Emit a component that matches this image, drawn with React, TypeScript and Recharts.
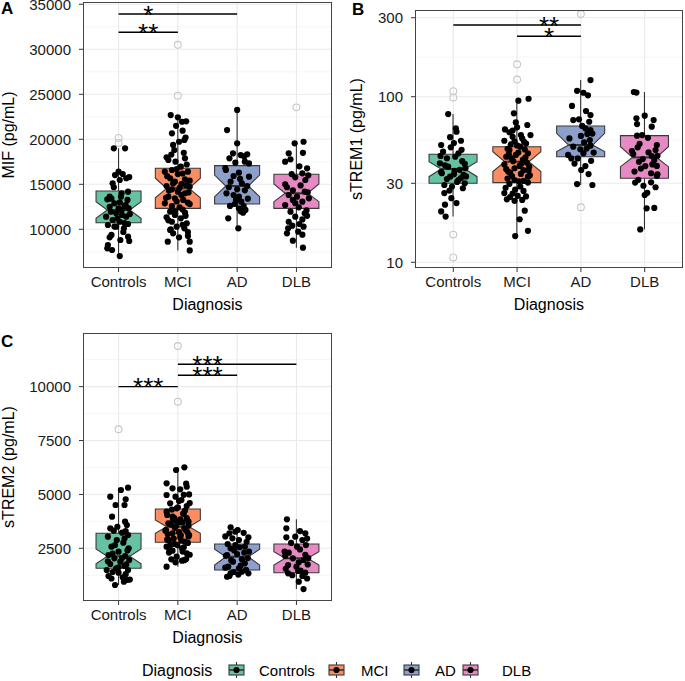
import React from 'react';
import { ComposedChart, Bar, Scatter, XAxis, YAxis, CartesianGrid, ReferenceLine } from 'recharts';

const FONT = '"Liberation Sans", Arial, Helvetica, sans-serif';

const GROUPS = ['Controls', 'MCI', 'AD', 'DLB'];
const FILLS = ['#66C2A5', '#FC8D62', '#8DA0CB', '#E78AC3'];

type Pt = [number, number];
type Sig = [number, number, number, number, string];

// box stats per group: [lowWhisker, q1, notchLow, median, notchHigh, q3, highWhisker]
const mifBoxes = [
  [6950, 10730, 11220, 12140, 13070, 14250, 19000],
  [7650, 12330, 13510, 14550, 15670, 16780, 22690],
  [10110, 12810, 13620, 14810, 16030, 17070, 23260],
  [7960, 12330, 13070, 14000, 15030, 16110, 19730],
];
const mifOutliers: Pt[] = [[1, 20150], [1, 19600], [2, 30500], [2, 24850], [4, 23550]];
const mifSigs: Sig[] = [[1, 3, 33920, 1.5, '*'], [1, 2, 31890, 1.5, '**']];

// jittered points: [jitter offset, value]
const mifControls: Pt[] = [
  [-0.08, 19000], [0.11, 19000], [0, 16400], [-0.06, 16030], [0.07, 16140], [0.13, 15670], [0.02, 15480],
  [-0.1, 15110], [-0.08, 14670], [0.16, 14180], [-0.15, 13620], [-0.19, 13330], [0.04, 13620], [0.15, 13260],
  [-0.07, 12890], [0.1, 12590], [0, 12330], [0.17, 12330], [-0.13, 11960], [-0.04, 11780], [0.06, 11590],
  [-0.21, 11400], [0.13, 11400], [-0.1, 11030], [0.02, 10840], [0.16, 10590], [-0.18, 10480], [-0.04, 10290],
  [0.09, 10110], [-0.12, 9370], [-0.15, 9110], [0.16, 9180], [0.03, 8810], [-0.18, 8250], [-0.19, 7890],
  [-0.11, 7700], [0.02, 7030], [-0.12, 13400], [0.12, 12700], [0.05, 12100], [-0.02, 11200], [0.1, 10700],
  [0.05, 14000], [-0.15, 12500], [0.19, 11700], [-0.07, 10300], [0.08, 9700], [0.18, 8700], [0.02, 13000],
  [0.18, 15800],
];
const mifMCI: Pt[] = [
  [-0.12, 22690], [0, 22440], [0.07, 21950], [-0.1, 20660], [0.08, 20960], [-0.08, 19370], [0.02, 19730],
  [0.11, 19920], [-0.06, 18810], [-0.19, 18000], [-0.16, 17700], [0.12, 17890], [-0.04, 17510], [0.05, 16960],
  [-0.22, 16400], [-0.1, 16590], [0.17, 16400], [0, 16140], [-0.13, 15670], [0.12, 15560], [-0.05, 15290],
  [0.06, 15030], [-0.19, 14810], [0.2, 14730], [-0.1, 14440], [0, 14180], [0.12, 14000], [-0.16, 13620],
  [-0.05, 13440], [0.09, 13260], [-0.22, 12890], [0.17, 12960], [-0.1, 12590], [0.03, 12440], [-0.13, 11960],
  [0.12, 11850], [-0.05, 11590], [-0.19, 11330], [0.05, 11220], [-0.1, 10840], [0.15, 10670], [-0.02, 10290],
  [-0.13, 9920], [0.11, 10110], [-0.08, 9550], [0.17, 9260], [0.02, 9110], [-0.17, 8620], [0.2, 8620],
  [0.2, 7650], [0.15, 17200], [-0.02, 16700], [0.08, 16200], [-0.18, 15900], [0.2, 15400], [-0.08, 15100],
  [0.14, 14900], [0.03, 14600], [-0.15, 14300], [0.18, 14100], [0.06, 13800], [-0.2, 13500], [-0.02, 13100],
  [0.2, 12800], [0.08, 12200], [-0.05, 12000], [0.13, 11500], [-0.16, 11000], [0.08, 10500], [-0.12, 10000],
  [0.17, 9700], [-0.11, 18300], [0.1, 18500], [0.13, 20200], [-0.03, 21500], [0.14, 22000],
];
const mifAD: Pt[] = [
  [0, 23260], [-0.17, 21030], [0, 19550], [-0.07, 18440], [0.06, 18250], [0.17, 18340], [-0.13, 17890],
  [0.13, 17510], [0.2, 17320], [-0.19, 16590], [0.03, 16290], [-0.06, 15920], [0.2, 15850], [-0.11, 15290],
  [0.08, 15110], [0.17, 14810], [-0.14, 14670], [0, 14440], [0.13, 14330], [-0.06, 13810], [0.03, 13620],
  [-0.02, 13260], [0.07, 13070], [-0.04, 12810], [0.11, 12590], [0.03, 12330], [0.14, 12150], [0.1, 11850],
  [-0.15, 11220], [0.02, 10110], [0.12, 18100], [-0.2, 16800], [0.05, 15600], [-0.18, 14000], [0.18, 13400],
  [-0.12, 12600], [0.06, 12000], [-0.03, 17400],
];
const mifDLB: Pt[] = [
  [-0.03, 19550], [0.12, 19730], [-0.13, 18440], [0.11, 18500], [-0.19, 17510], [-0.1, 17780], [0.18, 16780],
  [-0.08, 16140], [0.1, 16220], [-0.02, 15780], [0.15, 15480], [-0.16, 14670], [0.07, 14880], [-0.06, 14330],
  [0.14, 14180], [-0.13, 13810], [0.01, 13620], [0.21, 13440], [-0.06, 13260], [0.1, 13070], [-0.19, 12700],
  [0.04, 12440], [-0.1, 11960], [0.14, 11780], [-0.02, 11400], [0.1, 11100], [-0.13, 10840], [0.05, 10590],
  [0.12, 10290], [-0.14, 10110], [0.03, 9740], [-0.16, 9550], [-0.06, 8740], [0.11, 7960], [0.05, 17000],
  [0.2, 16000], [-0.19, 15000], [0.19, 14100], [-0.02, 12900], [0.17, 12100], [0.18, 11500], [-0.07, 10400],
  [0.1, 9400],
];

const trem1Boxes = [
  [18.9, 30.0, 32.9, 36.6, 40.5, 44.9, 78.6],
  [14.4, 30.3, 35.3, 40.5, 46.6, 49.9, 97.2],
  [29.3, 43.4, 46.6, 51.1, 60.1, 66.6, 126],
  [15.8, 32.2, 37.8, 43.0, 49.9, 58.2, 106.8],
];
const trem1Outliers: Pt[] = [[1, 108], [1, 99], [1, 14.7], [1, 10.7], [2, 157], [2, 127], [3, 316], [3, 21.5]];
const trem1Sigs: Sig[] = [[1, 3, 271, 2.5, '**'], [2, 3, 232, 2.5, '*']];

const trem1Controls: Pt[] = [
  [-0.08, 78.6], [0.04, 64.4], [0.05, 61.5], [0.12, 54.2], [-0.19, 51.1], [-0.04, 49.5], [-0.16, 46.6],
  [0.08, 45.5], [0.03, 43.4], [-0.1, 42.5], [-0.21, 39.6], [0.18, 39.3], [-0.08, 37.8], [0.02, 35.7],
  [-0.18, 34.5], [0.16, 33.7], [-0.05, 32.9], [0.08, 31.4], [0.18, 30.0], [-0.14, 29.3], [-0.02, 28.7],
  [-0.14, 26.2], [-0.03, 24.4], [0.05, 22.8], [-0.13, 22.3], [-0.19, 20.3], [-0.12, 18.9], [0.14, 40.8],
  [-0.13, 38.5], [0.1, 36.2], [-0.19, 35.1], [0.2, 33.0], [-0.1, 31.8], [0.06, 30.6], [0.15, 28.0],
  [-0.06, 27.1], [0.13, 47.8], [0.01, 52.5], [-0.05, 57.0], [-0.2, 43.9], [0.19, 37.0], [0.01, 34.0],
  [0.12, 32.3],
];
const trem1MCI: Pt[] = [
  [0.18, 97.2], [0.02, 94.6], [-0.05, 79.4], [-0.19, 63.5], [0, 65.3], [-0.07, 57.3], [0.06, 58.7],
  [0.21, 58.7], [-0.2, 54.2], [-0.04, 53.8], [0.11, 53.4], [0.05, 49.9], [-0.12, 47.6], [0.17, 45.5],
  [-0.02, 44.5], [-0.17, 43.4], [0.09, 41.5], [0.19, 37.8], [-0.04, 37.0], [-0.14, 35.3], [0.06, 34.2],
  [0.17, 32.9], [-0.04, 31.4], [-0.12, 29.8], [0.05, 28.7], [0.17, 30.3], [-0.2, 26.2], [-0.07, 26.0],
  [0.01, 25.2], [0.14, 25.0], [-0.16, 24.0], [-0.04, 23.5], [0.04, 18.2], [0.17, 15.5], [-0.03, 14.4],
  [-0.1, 51.5], [0.12, 48.0], [0.02, 46.0], [-0.09, 42.5], [0.15, 40.0], [-0.2, 39.0], [0.04, 38.2],
  [0.1, 36.0], [-0.11, 34.8], [0.2, 33.5], [-0.15, 32.0], [0.1, 31.0], [-0.03, 27.5], [0.16, 67.5],
  [-0.12, 61.0], [-0.02, 70.0], [0.08, 56], [-0.15, 48.5], [0.13, 43], [-0.06, 40.8], [0.07, 39.5],
  [-0.17, 36.5], [0.18, 35.8], [-0.08, 33.2], [0.03, 30.8], [-0.18, 28.2], [0.1, 27], [-0.11, 24.8],
  [0.08, 23.8], [0.12, 20.5], [-0.13, 45], [0, 50.8], [-0.07, 62.5], [0.14, 52.2],
];
const trem1AD: Pt[] = [
  [0.15, 126], [-0.06, 108.6], [0.04, 105.7], [0.11, 101.9], [-0.12, 72.3], [-0.03, 73.0], [0.15, 77.5],
  [0.02, 66.6], [0.13, 70.6], [0.07, 64.4], [0.15, 62.9], [0.1, 59.6], [0.18, 59.9], [0.14, 54.8],
  [-0.12, 49.9], [-0.01, 48.1], [0.09, 48.6], [0.15, 50.6], [-0.15, 42.4], [-0.05, 42.4], [0.04, 45.5],
  [0.07, 38.1], [0.005, 36.1], [0.12, 34.1], [-0.06, 29.7], [0.18, 29.3], [-0.18, 56], [0.05, 53],
  [0.2, 46], [-0.2, 44.5], [0.16, 41], [-0.1, 39.5], [-0.14, 88], [0.08, 82], [0, 58],
];
const trem1DLB: Pt[] = [
  [-0.17, 106.8], [-0.13, 105.9], [-0.13, 74.1], [0, 76.8], [0.14, 72.3], [-0.12, 68.4], [0.11, 65.9],
  [-0.12, 58.2], [-0.04, 58.7], [0.19, 51.1], [-0.11, 49.5], [0.17, 47.6], [0.06, 46.1], [-0.18, 45.1],
  [0.11, 43.8], [0.15, 41.5], [-0.09, 40.5], [0.01, 38.1], [0.19, 38.2], [-0.16, 35.3], [0.1, 34.5],
  [0.19, 33.2], [-0.15, 30.3], [-0.02, 29.0], [0.1, 30.4], [0.17, 28.4], [0.04, 26.3], [0, 25.5],
  [0.03, 21.2], [0.15, 21.3], [-0.07, 15.8], [0.05, 56.5], [-0.08, 52], [-0.2, 47], [0.2, 44],
  [-0.03, 42], [0.12, 39], [-0.06, 36.8], [0.2, 34], [-0.1, 31.5],
];

const trem2Boxes = [
  [797, 1572, 1780, 2130, 2470, 3196, 5312],
  [1646, 2778, 3196, 3502, 3813, 4324, 6258],
  [1180, 1493, 1725, 2110, 2454, 2700, 3474],
  [610, 1368, 1725, 2036, 2343, 2700, 3845],
];
const trem2Outliers: Pt[] = [[1, 8022], [2, 11887], [2, 9302]];
const trem2Sigs: Sig[] = [[1, 2, 10000, 1.5, '***'], [2, 3, 10527, 2.5, '***'], [2, 4, 11038, 2.5, '***']];

const trem2Controls: Pt[] = [
  [0.16, 5312], [0.04, 5205], [-0.14, 4894], [0.12, 4774], [-0.05, 4509], [0.11, 3734], [0.14, 3581],
  [-0.14, 3428], [-0.08, 3317], [0.06, 3224], [0.16, 3117], [-0.18, 3038], [-0.03, 2885], [0.08, 2760],
  [-0.12, 2574], [0.17, 2500], [0, 2342], [-0.17, 2189], [0.11, 2143], [-0.07, 2036], [0.18, 1957],
  [0.03, 1878], [-0.14, 1772], [0.1, 1679], [-0.04, 1572], [-0.2, 1493], [0.16, 1493], [0, 1368],
  [-0.17, 1215], [0.07, 1155], [0.14, 1029], [-0.06, 797], [-0.02, 3500], [0.12, 3300], [0.1, 2950],
  [-0.06, 2650], [0.15, 2400], [-0.1, 2250], [0.06, 2050], [-0.18, 1900], [0.13, 1750], [0, 1620],
  [-0.1, 1400], [0.12, 1300], [-0.12, 1100], [0.09, 950], [0.19, 1050], [-0.11, 3966], [0.1, 4509],
];
const trem2MCI: Pt[] = [
  [0.11, 6258], [-0.03, 6133], [-0.19, 5516], [-0.09, 5284], [0.04, 5238], [0.15, 5358], [0.1, 4980],
  [-0.19, 4973], [-0.04, 4894], [0.06, 4741], [-0.13, 4588], [0.15, 4463], [-0.02, 4356], [-0.19, 4198],
  [0.1, 4124], [-0.09, 3966], [0.04, 3846], [0.18, 3734], [-0.16, 3660], [-0.03, 3535], [0.11, 3428],
  [-0.21, 3317], [-0.09, 3196], [0.19, 3117], [0.04, 3010], [-0.15, 2885], [0.12, 2806], [-0.06, 2700],
  [-0.19, 2574], [0.07, 2500], [-0.09, 2389], [0.15, 2268], [-0.02, 2110], [-0.11, 1990], [0.07, 1925],
  [-0.19, 1646], [0.2, 4600], [0, 4400], [0.12, 4250], [-0.18, 4050], [0.15, 3900], [-0.08, 3800],
  [0.08, 3700], [-0.12, 3600], [0.18, 3550], [-0.05, 3450], [0.13, 3350], [0.02, 3250], [-0.17, 3150],
  [0.18, 3050], [-0.07, 2950], [0.06, 2850], [0.17, 2750], [-0.13, 2650], [0.1, 2550], [-0.15, 2300],
  [0.2, 2200], [0.14, 2000], [-0.04, 1850], [0.19, 5000], [0.14, 5500], [0.09, 4100], [-0.2, 3350],
  [-0.18, 2900], [0, 3700], [-0.1, 4300], [0.05, 3100], [-0.14, 2450], [0.08, 2350], [0.02, 4700],
  [-0.06, 3900], [0.16, 3250], [-0.01, 2650], [0.11, 1950],
];
const trem2AD: Pt[] = [
  [-0.11, 3474], [-0.13, 3196], [-0.03, 3270], [0.11, 3220], [0.19, 3010], [-0.08, 2964], [0.03, 2885],
  [-0.03, 2653], [-0.11, 2500], [0.13, 2574], [0.2, 2342], [-0.17, 2189], [0, 2236], [0.08, 1990],
  [-0.07, 1879], [0.13, 1804], [-0.15, 1646], [0.03, 1572], [-0.11, 1340], [0.19, 1340], [0.08, 1414],
  [-0.13, 1215], [0.01, 3350], [-0.2, 3050], [0.16, 2800], [-0.16, 2700], [0.04, 2550], [-0.05, 2400],
  [0.12, 2300], [-0.19, 2150], [0.18, 2050], [-0.1, 1950], [0.06, 1700], [-0.2, 1600], [0.15, 1500],
  [-0.06, 1400], [0.02, 1280], [-0.17, 1180],
];
const trem2DLB: Pt[] = [
  [-0.16, 3845], [-0.17, 3428], [-0.17, 3010], [-0.02, 3038], [0.15, 3196], [0.1, 2885], [0.01, 2574],
  [-0.13, 2296], [-0.19, 2143], [-0.06, 2036], [0.12, 1957], [-0.14, 1725], [0, 1646], [0.07, 1461],
  [0.15, 1368], [-0.14, 1340], [0.1, 1215], [0.04, 950], [0.12, 610], [0.06, 3300], [0.18, 2950],
  [-0.09, 2750], [0.16, 2650], [0.06, 2450], [-0.2, 2350], [0.15, 2200], [0.04, 1850], [0.19, 1750],
  [-0.18, 1550], [0.03, 1450], [-0.07, 1250], [0.18, 1100], [0.2, 2050],
];

const mifTicks = [10000, 15000, 20000, 25000, 30000, 35000];
const mifMinor = [7500, 12500, 17500, 22500, 27500, 32500];
const trem1Ticks = [10, 30, 100, 300];
const trem1Minor = [17.32, 54.77, 173.2];
const trem2Ticks = [2500, 5000, 7500, 10000];
const trem2Minor = [1250, 3750, 6250, 8750, 11250];

const AXIS_TEXT = { fill: '#1a1a1a', fontSize: 15, fontFamily: FONT };
const X_AXIS_H = 32;

function makeBoxShape(log: boolean) {
  return (props: any) => {
    const { x, y, width, height } = props;
    const d = props.payload ?? props;
    const [lo, q1, nLo, med, nHi, q3, hi] = d.stats;
    const t = (v: number) => (log ? Math.log10(v) : v);
    const py = (v: number) => y + ((t(hi) - t(v)) / (t(hi) - t(lo))) * height;
    const x0 = x;
    const x1 = x + width;
    const cx = x + width / 2;
    const nw = width / 4;
    const pts = [
      [x0, py(q3)], [x1, py(q3)], [x1, py(nHi)], [cx + nw, py(med)], [x1, py(nLo)],
      [x1, py(q1)], [x0, py(q1)], [x0, py(nLo)], [cx - nw, py(med)], [x0, py(nHi)],
    ];
    return (
      <g>
        <line x1={cx} x2={cx} y1={py(hi)} y2={py(lo)} stroke="#333" strokeWidth={1.1} />
        <polygon points={pts.map((p) => p.join(',')).join(' ')} fill={d.fill} stroke="#3a3a3a" strokeWidth={1.1} />
        <line x1={cx - nw} x2={cx + nw} y1={py(med)} y2={py(med)} stroke="#333" strokeWidth={2} />
      </g>
    );
  };
}

const Dot = (props: any) => <circle cx={props.cx} cy={props.cy} r={3.1} fill="#000" />;
const Hollow = (props: any) => (
  <circle cx={props.cx} cy={props.cy} r={3.4} fill="none" stroke="#c6c6c6" strokeWidth={1.1} />
);
const Stars = (props: any) => (
  <text x={props.cx} y={props.cy + 9.5} textAnchor="middle" fontSize={26} fontFamily={FONT} fill="#000">
    {(props.payload ?? props).label}
  </text>
);

interface PanelProps {
  left: number;
  top: number;
  width: number;
  height: number;
  marginTop: number;
  marginRight: number;
  yAxisWidth: number;
  boxes: number[][];
  groups: Pt[][];
  outliers: Pt[];
  sigs: Sig[];
  domain: [number, number];
  majors: number[];
  minors: number[];
  log?: boolean;
}

function Panel(p: PanelProps) {
  const boxData = GROUPS.map((g, i) => ({ group: g, range: [p.boxes[i][0], p.boxes[i][6]], stats: p.boxes[i], fill: FILLS[i] }));
  const points = p.groups.flatMap((arr, i) => arr.map(([dx, v]) => ({ x: i + 1 + dx, y: v })));
  const outs = p.outliers.map(([g, v]) => ({ x: g, y: v }));
  const labels = p.sigs.map(([, , y, lx, label]) => ({ x: lx, y, label }));
  const plotW = p.width - p.marginRight - p.yAxisWidth;
  const plotH = p.height - p.marginTop - X_AXIS_H;
  const pad = plotW / 42;
  const shape = makeBoxShape(!!p.log);

  return (
    <div style={{ position: 'absolute', left: p.left, top: p.top }}>
      <ComposedChart
        width={p.width}
        height={p.height}
        data={boxData}
        margin={{ top: p.marginTop, right: p.marginRight, bottom: 0, left: 0 }}
        barCategoryGap="12%"
      >
        <CartesianGrid xAxisId="num" vertical={false} horizontalValues={p.minors} stroke="#EFEFEF" strokeWidth={0.6} />
        <CartesianGrid
          xAxisId="num"
          horizontalValues={p.majors}
          verticalValues={[1, 2, 3, 4]}
          stroke="#EAEAEA"
          strokeWidth={1.1}
        />
        <XAxis
          xAxisId="cat"
          dataKey="group"
          type="category"
          interval={0}
          padding={{ left: pad, right: pad }}
          height={X_AXIS_H}
          tickSize={4}
          tickMargin={4.5}
          axisLine={false}
          tickLine={{ stroke: '#333' }}
          tick={AXIS_TEXT}
        />
        <XAxis xAxisId="num" dataKey="x" type="number" domain={[0.4, 4.6]} hide allowDataOverflow />
        <YAxis
          type="number"
          scale={p.log ? 'log' : 'linear'}
          domain={p.domain}
          ticks={p.majors}
          interval={0}
          allowDataOverflow
          width={p.yAxisWidth}
          tickSize={4}
          tickMargin={8}
          axisLine={false}
          tickLine={{ stroke: '#333' }}
          tick={AXIS_TEXT}
        />
        <Bar xAxisId="cat" dataKey="range" shape={shape} isAnimationActive={false} />
        <Scatter xAxisId="num" data={outs} dataKey="y" shape={Hollow} isAnimationActive={false} />
        <Scatter xAxisId="num" data={points} dataKey="y" shape={Dot} isAnimationActive={false} />
        {p.sigs.map(([x1, x2, y], i) => (
          <ReferenceLine
            key={i}
            xAxisId="num"
            ifOverflow="visible"
            segment={[{ x: x1, y }, { x: x2, y }]}
            stroke="#000"
            strokeWidth={1.4}
          />
        ))}
        <Scatter xAxisId="num" data={labels} dataKey="y" shape={Stars} isAnimationActive={false} />
      </ComposedChart>
      <div
        style={{
          position: 'absolute',
          left: p.yAxisWidth,
          top: p.marginTop,
          width: plotW,
          height: plotH,
          border: '1px solid #444',
          boxSizing: 'border-box',
          pointerEvents: 'none',
        }}
      />
    </div>
  );
}

const LEGEND_KEYS = [228, 328, 403, 462];
const LEGEND_TEXT = [259, 361, 435, 502];

export default function App() {
  return (
    <div style={{ position: 'absolute', left: 0, top: 0, width: 685, height: 681, background: '#fff', fontFamily: FONT }}>
      <Panel
        left={0} top={0} width={340} height={300} marginTop={2} marginRight={8} yAxisWidth={83}
        boxes={mifBoxes} groups={[mifControls, mifMCI, mifAD, mifDLB]} outliers={mifOutliers} sigs={mifSigs}
        domain={[5700, 35255]} majors={mifTicks} minors={mifMinor}
      />
      <Panel
        left={340} top={0} width={345} height={300} marginTop={10} marginRight={2} yAxisWidth={75}
        boxes={trem1Boxes} groups={[trem1Controls, trem1MCI, trem1AD, trem1DLB]} outliers={trem1Outliers} sigs={trem1Sigs}
        domain={[9.24, 334]} majors={trem1Ticks} minors={trem1Minor} log
      />
      <Panel
        left={0} top={320} width={340} height={313} marginTop={13} marginRight={8} yAxisWidth={83}
        boxes={trem2Boxes} groups={[trem2Controls, trem2MCI, trem2AD, trem2DLB]} outliers={trem2Outliers} sigs={trem2Sigs}
        domain={[55, 12490]} majors={trem2Ticks} minors={trem2Minor}
      />
      <svg width={685} height={681} style={{ position: 'absolute', left: 0, top: 0, pointerEvents: 'none' }} fontFamily={FONT}>
        <text x={1} y={13.5} fontSize={17} fontWeight="bold">A</text>
        <text x={352} y={15} fontSize={17} fontWeight="bold">B</text>
        <text x={1} y={347} fontSize={17} fontWeight="bold">C</text>
        <text x={13.5} y={135} transform="rotate(-90 13.5 135)" textAnchor="middle" fontSize={16}>MIF (pg/mL)</text>
        <text x={362} y={139} transform="rotate(-90 362 139)" textAnchor="middle" fontSize={16}>sTREM1 (pg/mL)</text>
        <text x={13.5} y={467} transform="rotate(-90 13.5 467)" textAnchor="middle" fontSize={16}>sTREM2 (pg/mL)</text>
        <text x={207.5} y={309.5} textAnchor="middle" fontSize={16}>Diagnosis</text>
        <text x={549} y={309.5} textAnchor="middle" fontSize={16}>Diagnosis</text>
        <text x={207.5} y={642.5} textAnchor="middle" fontSize={16}>Diagnosis</text>
        <text x={142} y={676} fontSize={16}>Diagnosis</text>
        {GROUPS.map((g, i) => {
          const kx = LEGEND_KEYS[i];
          return (
            <g key={g}>
              <line x1={kx + 8.5} x2={kx + 8.5} y1={662} y2={678} stroke="#333" strokeWidth={1.1} />
              <rect x={kx + 1} y={665} width={15} height={10} fill={FILLS[i]} stroke="#3a3a3a" strokeWidth={1.1} />
              <line x1={kx + 1} x2={kx + 16} y1={670} y2={670} stroke="#333" strokeWidth={1.6} />
              <circle cx={kx + 8.5} cy={670} r={3.1} fill="#000" />
              <text x={LEGEND_TEXT[i]} y={676} fontSize={15}>{g}</text>
            </g>
          );
        })}
      </svg>
    </div>
  );
}
